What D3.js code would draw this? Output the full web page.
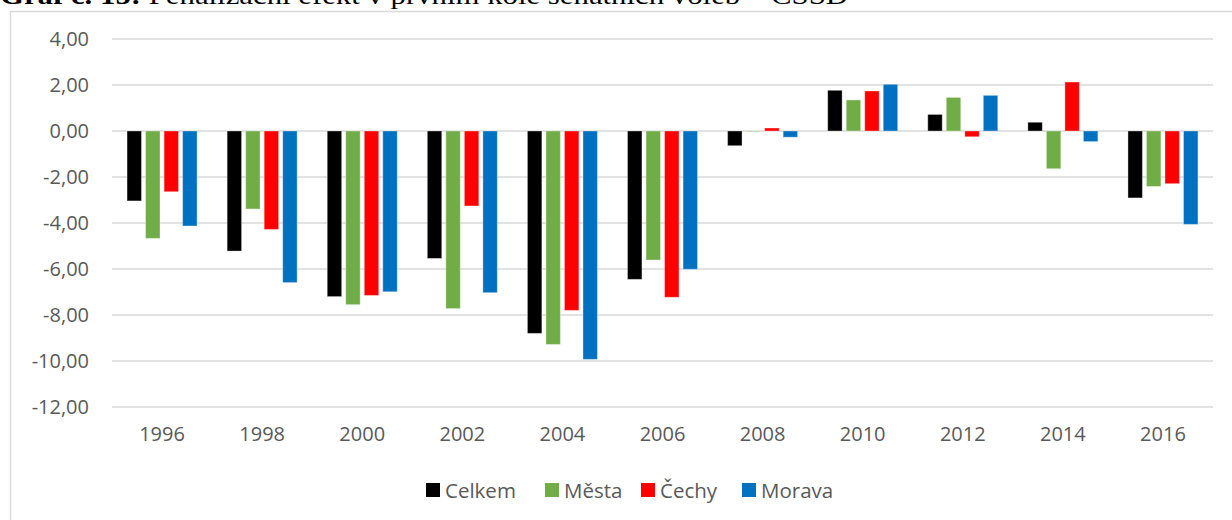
<!DOCTYPE html>
<html>
<head>
<meta charset="utf-8">
<script src="https://cdn.jsdelivr.net/npm/d3@7"></script>
<style>
  body { margin: 0; background: #fff; }
  svg { display: block; }
</style>
</head>
<body>
<svg id="chart" width="1232" height="520"></svg>
<script>
const years = ["1996", "1998", "2000", "2002", "2004", "2006", "2008", "2010", "2012", "2014", "2016"]
const seriesNames = ["Celkem", "Města", "Čechy", "Morava"]
const colors = ["#000000", "#70AD47", "#FF0000", "#0070C0"]

const celkem = [-3.04, -5.22, -7.20, -5.54, -8.80, -6.45, -0.64, 1.77, 0.72, 0.38, -2.91]
const mesta  = [-4.67, -3.39, -7.55, -7.72, -9.28, -5.61, -0.02, 1.35, 1.46, -1.64, -2.41]
const cechy  = [-2.64, -4.28, -7.15, -3.26, -7.80, -7.23, 0.13, 1.74, -0.25, 2.13, -2.29]
const morava = [-4.13, -6.59, -6.99, -7.03, -9.93, -6.01, -0.27, 2.03, 1.55, -0.46, -4.06]
const yTicks = [4, 2, 0, -2, -4, -6, -8, -10, -12]

const values = [celkem, mesta, cechy, morava]
const data = years.map((y, i) => ({
  year: y,
  vals: seriesNames.map((s, j) => ({ key: s, value: values[j][i], color: colors[j] }))
}))

const svg = d3.select("#chart")
const textColor = "#595959"
const gridColor = "#D9D9D9"
const font = "'Open Sans', sans-serif"

const locale = d3.formatLocale({ decimal: ",", thousands: " ", grouping: [3], currency: ["", ""], minus: "-" })
const fmt = locale.format(".2f")

// title (cut off at the top in the original)
svg.append("text")
  .attr("x", 0).attr("y", 4)
  .attr("font-family", "'Liberation Serif', serif")
  .attr("font-size", 26)
  .attr("fill", "#000")
  .attr("textLength", 848)
  .attr("lengthAdjust", "spacingAndGlyphs")
  .html('<tspan font-weight="bold">Graf č. 15:</tspan> Penalizační efekt v prvním kole senátních voleb – ČSSD')

// chart frame
svg.append("path")
  .attr("d", "M10.5,520 V11.5 H1232")
  .attr("fill", "none")
  .attr("stroke", gridColor)
  .attr("stroke-width", 1.5)

const x0 = d3.scaleBand().domain(years).range([112, 1213]).padding(0)
const x1 = d3.scaleBand().domain(seriesNames).range([-35, 35]).paddingInner(0.22)
const y = d3.scaleLinear().domain([-12, 4]).range([407, 39])

// gridlines
svg.append("g")
  .selectAll("line")
  .data(yTicks)
  .join("line")
  .attr("x1", 112).attr("x2", 1213)
  .attr("y1", d => y(d)).attr("y2", d => y(d))
  .attr("stroke", gridColor)
  .attr("stroke-width", 1.5)

// y axis labels
const yAxis = d3.axisLeft(y).tickValues(yTicks).tickFormat(fmt).tickSize(0).tickPadding(0)
const yg = svg.append("g").attr("transform", "translate(89,0)").call(yAxis)
yg.select(".domain").remove()
yg.selectAll("text")
  .attr("font-family", font)
  .attr("font-size", 20)
  .attr("fill", textColor)

// bars
const groups = svg.append("g")
  .selectAll("g")
  .data(data)
  .join("g")
  .attr("transform", d => `translate(${x0(d.year) + x0.bandwidth() / 2},0)`)

groups.selectAll("rect")
  .data(d => d.vals)
  .join("rect")
  .attr("x", d => x1(d.key))
  .attr("width", x1.bandwidth())
  .attr("y", d => y(Math.max(0, d.value)))
  .attr("height", d => Math.abs(y(d.value) - y(0)))
  .attr("fill", d => d.color)
  .attr("stroke", "rgba(255,255,255,0.35)")
  .attr("stroke-width", 1)

// x axis labels
const xAxis = d3.axisBottom(x0).tickSize(0).tickPadding(0)
const xg = svg.append("g").attr("transform", "translate(0,427)").call(xAxis)
xg.select(".domain").remove()
xg.selectAll("text")
  .attr("dy", "0.71em")
  .attr("font-family", font)
  .attr("font-size", 20)
  .attr("fill", textColor)

// legend
const legendX = [426, 545, 641, 742]
const legend = svg.append("g")
  .selectAll("g")
  .data(seriesNames)
  .join("g")
  .attr("transform", (d, i) => `translate(${legendX[i]},483)`)

legend.append("rect")
  .attr("width", 14).attr("height", 14)
  .attr("fill", (d, i) => colors[i])

legend.append("text")
  .attr("x", 19).attr("y", 14.5)
  .attr("font-family", font)
  .attr("font-size", 20.5)
  .attr("fill", textColor)
  .text(d => d)
</script>
</body>
</html>
